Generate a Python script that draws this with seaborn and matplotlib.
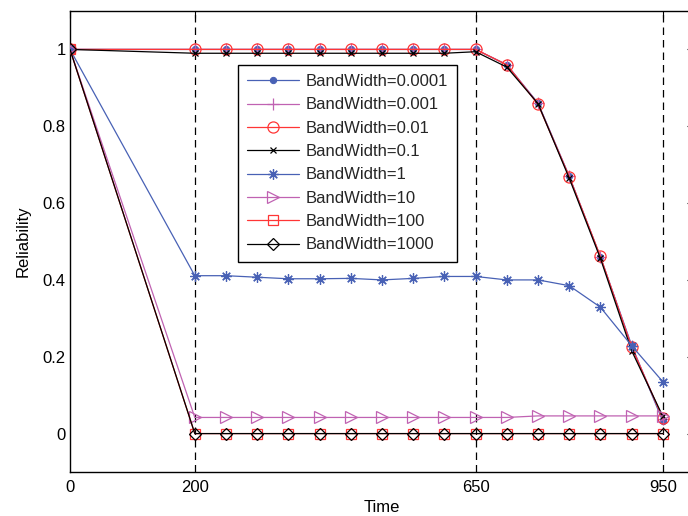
import numpy as np
import pandas as pd
import matplotlib
matplotlib.use("Agg")
import matplotlib.pyplot as plt
import seaborn as sns

sns.set_theme(style="white")
plt.rcParams['font.family'] = ['Liberation Sans', 'DejaVu Sans']

time = [0, 200, 250, 300, 350, 400, 450, 500, 550, 600, 650, 700, 750, 800, 850, 900, 950]
bw_labels = ["BandWidth=0.0001", "BandWidth=0.001", "BandWidth=0.01", "BandWidth=0.1",
             "BandWidth=1", "BandWidth=10", "BandWidth=100", "BandWidth=1000"]
r_0001 = [1, 1, 1, 1, 1, 1, 1, 1, 1, 1, 1, 0.96, 0.86, 0.67, 0.46, 0.23, 0.032]
r_001 = [1, 1, 1, 1, 1, 1, 1, 1, 1, 1, 1, 0.96, 0.86, 0.67, 0.46, 0.228, 0.038]
r_01 = [1, 1, 1, 1, 1, 1, 1, 1, 1, 1, 1, 0.96, 0.857, 0.669, 0.461, 0.225, 0.04]
r_1e = [1, 0.99, 0.99, 0.99, 0.99, 0.99, 0.99, 0.99, 0.99, 0.99, 0.994, 0.954, 0.859, 0.665, 0.456, 0.216, 0.045]
r_1 = [1, 0.411, 0.411, 0.407, 0.403, 0.403, 0.404, 0.400, 0.404, 0.409, 0.409, 0.400, 0.400, 0.385, 0.329, 0.229, 0.135]
r_10 = [1, 0.042, 0.042, 0.042, 0.042, 0.042, 0.042, 0.042, 0.042, 0.042, 0.042, 0.042, 0.046, 0.046, 0.046, 0.046, 0.046]
r_100 = [1, 0, 0, 0, 0, 0, 0, 0, 0, 0, 0, 0, 0, 0, 0, 0, 0]
r_1000 = [1, 0, 0, 0, 0, 0, 0, 0, 0, 0, 0, 0, 0, 0, 0, 0, 0]
series = [r_0001, r_001, r_01, r_1e, r_1, r_10, r_100, r_1000]
vlines = [200, 650, 950]
xticks = [0, 200, 650, 950]
yticks = [0, 0.2, 0.4, 0.6, 0.8, 1]
ytick_labels = ["0", "0.2", "0.4", "0.6", "0.8", "1"]

blue = "#4861B5"
mag = "#C062B2"
red = "#FF3535"
black = "#000000"
styles = [
    dict(color=blue, marker="o", markersize=4.5, markerfacecolor=blue, markeredgecolor=blue),
    dict(color=mag, marker="+", markersize=8, markeredgecolor=mag, markeredgewidth=0.9),
    dict(color=red, marker="o", markersize=8, markerfacecolor="none", markeredgecolor=red, markeredgewidth=0.9),
    dict(color=black, marker="x", markersize=5, markeredgecolor=black, markeredgewidth=0.9),
    dict(color=blue, marker=(8, 2, 0), markersize=7.5, markeredgecolor=blue, markeredgewidth=0.9),
    dict(color=mag, marker=">", markersize=9, markerfacecolor="none", markeredgecolor=mag, markeredgewidth=0.9),
    dict(color=red, marker="s", markersize=7.5, markerfacecolor="none", markeredgecolor=red, markeredgewidth=0.9),
    dict(color=black, marker="D", markersize=6, markerfacecolor="none", markeredgecolor=black, markeredgewidth=0.9),
]

fig = plt.figure(figsize=(6.88, 5.16), dpi=100)
ax = fig.add_axes([70 / 688, 44 / 516, 624 / 688, 461 / 516])

for v in vlines:
    ax.axvline(v, color="black", linestyle=(0, (6, 4)), linewidth=0.9, zorder=1)

for lab, vals, st in zip(bw_labels, series, styles):
    df = pd.DataFrame({"Time": time, "Reliability": vals})
    sns.lineplot(data=df, x="Time", y="Reliability", ax=ax, label=lab,
                 linewidth=0.9, errorbar=None, zorder=3, **st)

ax.set_xlim(0, 1000)
ax.set_ylim(-0.1, 1.1)
ax.set_xticks(xticks)
ax.set_xticklabels([str(t) for t in xticks])
ax.set_yticks(yticks)
ax.set_yticklabels(ytick_labels)
ax.tick_params(axis="both", direction="in", length=5, width=0.8, labelsize=12,
               colors="black", top=True, right=True)
ax.tick_params(axis="x", pad=6)
ax.tick_params(axis="y", pad=3)
for sp in ax.spines.values():
    sp.set_color("black")
    sp.set_linewidth(1.0)
ax.set_xlabel("Time", fontsize=12, labelpad=3, color="black")
ax.set_ylabel("Reliability", fontsize=12, labelpad=9, color="black")

leg = ax.legend(loc="upper left", bbox_to_anchor=(0.269, 0.883), fontsize=12,
                frameon=True, fancybox=False, edgecolor="black", framealpha=1,
                handlelength=3.1, handletextpad=0.4, labelspacing=0.5,
                borderpad=0.55, borderaxespad=0)
leg.get_frame().set_linewidth(1.0)

fig.savefig("out.png", dpi=100)
